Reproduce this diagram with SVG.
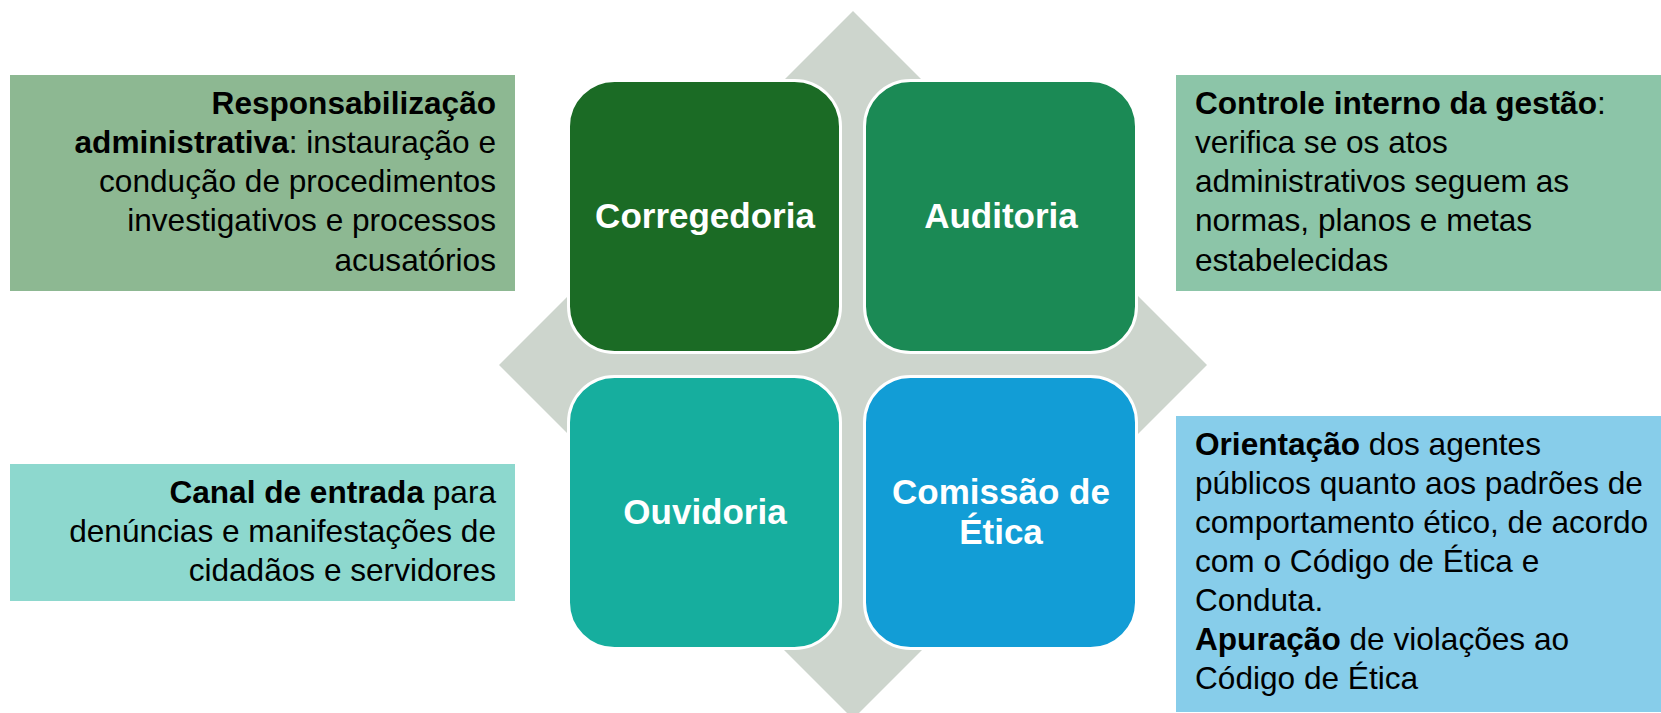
<svg xmlns="http://www.w3.org/2000/svg" width="1661" height="713" viewBox="0 0 1661 713">
<style>
.t{font-family:"Liberation Sans",Arial,sans-serif;font-size:31.6px;fill:#000}
.r{text-anchor:end}
.b{font-weight:bold}
.lbl{font-family:"Liberation Sans",Arial,sans-serif;font-size:35px;font-weight:bold;fill:#fff;text-anchor:middle}
.sq{stroke:#fff;stroke-width:3}
</style>
<rect width="1661" height="713" fill="#fff"/>
<g id="connectors">
<polygon points="853,11 1207,365 853,719 499,365" fill="#CDD5CD"/>
</g>
<g id="corregedoria">
<rect class="sq" x="568.5" y="80.5" width="272" height="272" rx="46" fill="#1B6B25"/>
<text class="lbl" x="705" y="228">Corregedoria</text>
</g>
<g id="auditoria">
<rect class="sq" x="864.5" y="80.5" width="272" height="272" rx="46" fill="#1B8A55"/>
<text class="lbl" x="1001" y="228">Auditoria</text>
</g>
<g id="ouvidoria">
<rect class="sq" x="568.5" y="376.5" width="272" height="272" rx="46" fill="#16AE9E"/>
<text class="lbl" x="705" y="524">Ouvidoria</text>
</g>
<g id="comissao">
<rect class="sq" x="864.5" y="376.5" width="272" height="272" rx="46" fill="#129DD6"/>
<text class="lbl" x="1001" y="504">Comissão de</text>
<text class="lbl" x="1001" y="544">Ética</text>
</g>
<g id="desc-corregedoria">
<rect x="10" y="75" width="505" height="216" fill="#8DB892"/>
<text class="t r b" x="496" y="114">Responsabilização</text>
<text class="t r" x="496" y="153"><tspan class="b">administrativa</tspan>: instauração e</text>
<text class="t r" x="496" y="192">condução de procedimentos</text>
<text class="t r" x="496" y="231">investigativos e processos</text>
<text class="t r" x="496" y="271">acusatórios</text>
</g>
<g id="desc-auditoria">
<rect x="1176" y="75" width="485" height="216" fill="#8CC5A8"/>
<text class="t" x="1195" y="114"><tspan class="b">Controle interno da gestão</tspan>:</text>
<text class="t" x="1195" y="153">verifica se os atos</text>
<text class="t" x="1195" y="192">administrativos seguem as</text>
<text class="t" x="1195" y="231">normas, planos e metas</text>
<text class="t" x="1195" y="271">estabelecidas</text>
</g>
<g id="desc-ouvidoria">
<rect x="10" y="464" width="505" height="137" fill="#8DD8CE"/>
<text class="t r" x="496" y="503"><tspan class="b">Canal de entrada</tspan> para</text>
<text class="t r" x="496" y="542">denúncias e manifestações de</text>
<text class="t r" x="496" y="581">cidadãos e servidores</text>
</g>
<g id="desc-comissao">
<rect x="1176" y="416" width="485" height="296" fill="#87CDEA"/>
<text class="t" x="1195" y="455"><tspan class="b">Orientação</tspan> dos agentes</text>
<text class="t" x="1195" y="494">públicos quanto aos padrões de</text>
<text class="t" x="1195" y="533">comportamento ético, de acordo</text>
<text class="t" x="1195" y="572">com o Código de Ética e</text>
<text class="t" x="1195" y="611">Conduta.</text>
<text class="t" x="1195" y="650"><tspan class="b">Apuração</tspan> de violações ao</text>
<text class="t" x="1195" y="689">Código de Ética</text>
</g>
</svg>
